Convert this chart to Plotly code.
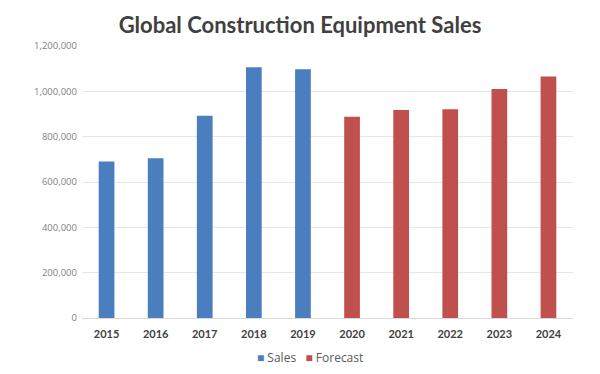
import plotly.graph_objects as go

years_sales = ["2015", "2016", "2017", "2018", "2019"]
sales = [690000, 705000, 892000, 1106000, 1097000]
years_forecast = ["2020", "2021", "2022", "2023", "2024"]
forecast = [888000, 918000, 921000, 1010000, 1065000]
y_ticks = [0, 200000, 400000, 600000, 800000, 1000000, 1200000]
y_tick_labels = ["0", "200,000", "400,000", "600,000", "800,000", "1,000,000", "1,200,000"]
series_names = ["Sales", "Forecast"]
series_colors = ["#4A7EBF", "#C0504D"]

fig = go.Figure()
fig.add_trace(go.Bar(x=years_sales, y=sales, name=series_names[0],
                     marker=dict(color=series_colors[0], line=dict(width=0)), width=0.32))
fig.add_trace(go.Bar(x=years_forecast, y=forecast, name=series_names[1],
                     marker=dict(color=series_colors[1], line=dict(width=0)), width=0.32))

legend_text = "&nbsp;&nbsp;&nbsp;".join(
    f"<span style='color:{c};font-size:12px'>■</span> {n}" for n, c in zip(series_names, series_colors)
)

fig.update_layout(
    width=600, height=374,
    paper_bgcolor="white", plot_bgcolor="white",
    margin=dict(l=82, r=27, t=46, b=56),
    barmode="overlay",
    showlegend=False,
    title=dict(text="<b>Global Construction Equipment Sales</b>", x=0.5, xanchor="center",
               y=1 - 25/374, yanchor="middle",
               font=dict(family="Lato", size=22, color="#404040")),
    xaxis=dict(categoryorder="array", categoryarray=years_sales + years_forecast,
               showgrid=False, showline=True, linecolor="#d9d9d9", ticks="",
               automargin=False, ticklabelstandoff=6,
               tickfont=dict(family="Lato", size=11, color="#404040", weight="bold")),
    yaxis=dict(range=[0, 1200000], tickvals=y_ticks, ticktext=y_tick_labels,
               showgrid=True, gridcolor="#e6e6e6", zeroline=False, showline=False,
               automargin=False, ticklabelstandoff=4,
               tickfont=dict(family="Open Sans", size=9.5, color="#7f7f7f")),
    annotations=[dict(text=legend_text, xref="paper", yref="paper", x=(310 - 82) / 491,
                      y=-(357 - 318) / 272, xanchor="center", yanchor="middle", showarrow=False,
                      font=dict(family="Open Sans", size=12, color="#595959"))],
)

fig.write_html("out.html", post_script="document.body.style.margin='0';",
               config={"displayModeBar": False})
